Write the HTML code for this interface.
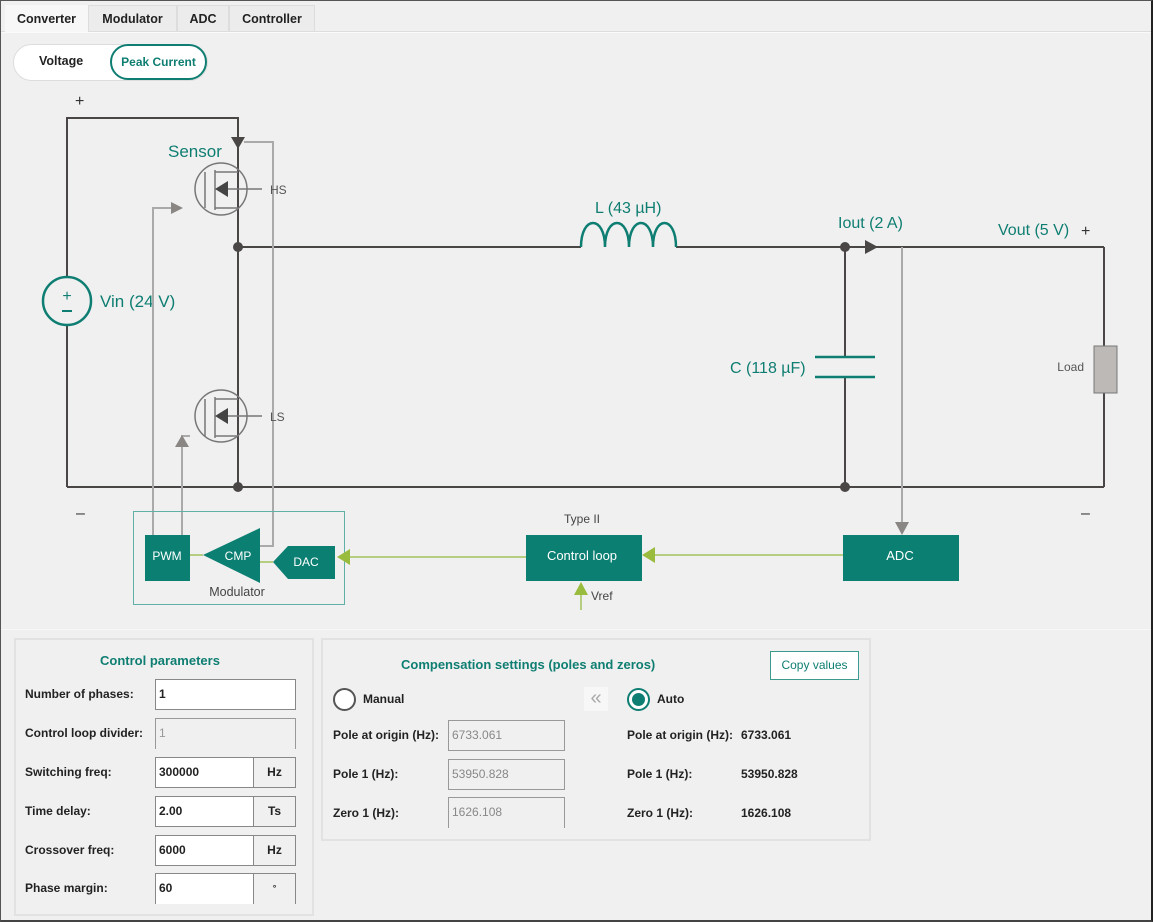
<!DOCTYPE html>
<html><head><meta charset="utf-8">
<style>
*{box-sizing:border-box;margin:0;padding:0}
body{width:1153px;height:922px;background:#f0f0f0;font-family:"Liberation Sans",sans-serif;position:relative;overflow:hidden;color:#222}
.frame{position:absolute;left:0;top:0;width:1153px;height:922px;border:1px solid #555;border-right:2px solid #222;border-bottom:2px solid #444}
.abs{position:absolute}
.tab{position:absolute;top:5px;height:26px;font-size:12.5px;font-weight:bold;line-height:26px;text-align:center;border:1px solid #ddd;border-bottom:none;background:#ececec;color:#222}
.lbl{position:absolute;font-size:12px;font-weight:bold;color:#222;white-space:nowrap}
.inp{position:absolute;background:#fff;border:1px solid #888;font-size:12px;font-weight:bold;padding-left:3px;line-height:28px}
.unit{position:absolute;border:1px solid #888;font-size:12px;font-weight:bold;text-align:center;line-height:28px;background:#f0f0f0}
.dis{position:absolute;border:1px solid #999;font-size:12px;color:#888;padding-left:3px;line-height:28px;background:#f0f0f0}
.panel{position:absolute;border:2px solid #e2e2e2}
</style></head><body>
<div class="abs" style="left:1px;top:31px;width:1150px;height:1px;background:#ddd"></div>
<div class="abs" style="left:1px;top:32px;width:1150px;height:1px;background:#fafafa"></div>
<div class="tab" style="left:5px;width:83px;background:#f7f7f7;border-color:#f7f7f7;height:27px">Converter</div>
<div class="tab" style="left:88px;width:89px">Modulator</div>
<div class="tab" style="left:177px;width:52px">ADC</div>
<div class="tab" style="left:229px;width:86px">Controller</div>

<div class="abs" style="left:13px;top:44px;width:195px;height:37px;border-radius:19px;background:#fff;border:1px solid #ddd"></div>
<div class="lbl" style="left:39px;top:54px;font-size:12.5px">Voltage</div>
<div class="abs" style="left:110px;top:44px;width:97px;height:36px;border-radius:18px;border:2px solid #0f7e72;background:#fff;color:#0f7e72;font-size:12px;font-weight:bold;text-align:center;line-height:32px;white-space:nowrap">Peak Current</div>

<svg class="abs" style="left:0;top:0" width="1153" height="630" font-family="Liberation Sans, sans-serif">
<g stroke="#4a4646" stroke-width="2" fill="none">
<polyline points="67,277 67,118 238,118 238,487"/>
<line x1="67" y1="325" x2="67" y2="487"/>
<line x1="67" y1="487" x2="1104" y2="487"/>
<line x1="238" y1="247" x2="581" y2="247"/>
<line x1="676" y1="247" x2="1104" y2="247"/>
<line x1="1104" y1="247" x2="1104" y2="346"/>
<line x1="1104" y1="393" x2="1104" y2="487"/>
<line x1="845" y1="247" x2="845" y2="357"/>
<line x1="845" y1="377" x2="845" y2="487"/>
</g>
<g fill="#4a4646"><circle cx="238" cy="247" r="5"/><circle cx="238" cy="487" r="5"/><circle cx="845" cy="247" r="5"/><circle cx="845" cy="487" r="5"/>
<polygon points="231,137 245,137 238,149"/><polygon points="865,240 865,254 878,247"/></g>
<circle cx="67" cy="301" r="24" fill="none" stroke="#0f7e72" stroke-width="2.5"/>
<text x="67" y="301" text-anchor="middle" font-size="16" fill="#0f7e72">+</text>
<line x1="62" y1="311" x2="72" y2="311" stroke="#0f7e72" stroke-width="2"/>
<text x="100" y="307" font-size="17" fill="#0f7e72">Vin (24 V)</text>
<text x="75" y="106" font-size="16" fill="#333">+</text>
<text x="76" y="518" font-size="16" fill="#333">–</text>
<text x="1081" y="518" font-size="16" fill="#333">–</text>
<text x="168" y="157" font-size="17" fill="#0f7e72">Sensor</text>
<g stroke="#aaa" stroke-width="2" fill="none">
<polyline points="244,142 273,142 273,546 260,546"/>
<polyline points="175,208 153,208 153,535"/>
<polyline points="190,436 182,436 182,535"/>
<line x1="902" y1="247" x2="902" y2="524"/>
</g>
<g fill="#8a8684"><polygon points="171,202 171,214 183,208"/><polygon points="175,447 189,447 182,435"/><polygon points="895,522 909,522 902,535"/></g>
<g stroke="#777" stroke-width="1.5" fill="none">
<circle cx="221" cy="189" r="26"/><circle cx="221" cy="416" r="26"/>
<line x1="205" y1="172" x2="205" y2="208"/><line x1="205" y1="399" x2="205" y2="436"/>
<polyline points="215,172 238,172"/><polyline points="215,208 238,208"/>
<polyline points="215,399 238,399"/><polyline points="215,436 238,436"/>
<line x1="215" y1="170" x2="215" y2="210"/><line x1="215" y1="397" x2="215" y2="438"/>
<line x1="223" y1="189" x2="262" y2="189"/><line x1="223" y1="416" x2="262" y2="416"/>
</g>
<g fill="#444"><polygon points="215,189 228,181 228,197"/><polygon points="215,416 228,408 228,424"/></g>
<text x="270" y="194" font-size="12" fill="#555">HS</text>
<text x="270" y="421" font-size="12" fill="#555">LS</text>
<path d="M581,247 C581,215 605,215 605,247 C605,215 629,215 629,247 C629,215 653,215 653,247 C653,215 676,215 676,247" fill="none" stroke="#0f7e72" stroke-width="2.5"/>
<text x="595" y="213" font-size="16" fill="#0f7e72">L (43 µH)</text>
<text x="838" y="228" font-size="16" fill="#0f7e72">Iout (2 A)</text>
<text x="998" y="235" font-size="16" fill="#0f7e72">Vout (5 V)</text>
<text x="1081" y="236" font-size="16" fill="#333">+</text>
<g stroke="#0f7e72" stroke-width="2.5"><line x1="815" y1="357" x2="875" y2="357"/><line x1="815" y1="377" x2="875" y2="377"/></g>
<text x="730" y="373" font-size="16" fill="#0f7e72">C (118 µF)</text>
<rect x="1094" y="346" width="23" height="47" fill="#bcb9b7" stroke="#777" stroke-width="1"/>
<text x="1084" y="371" font-size="12" fill="#555" text-anchor="end">Load</text>
<rect x="133.5" y="511.5" width="211" height="93" fill="none" stroke="#5fb0a6" stroke-width="1"/>
<g stroke="#a3c25a" stroke-width="1.5"><line x1="190" y1="555" x2="203" y2="555"/><line x1="260" y1="562" x2="273" y2="562"/>
<line x1="350" y1="557" x2="526" y2="557"/><line x1="655" y1="555" x2="843" y2="555"/><line x1="581" y1="610" x2="581" y2="594"/></g>
<g fill="#99bb3e"><polygon points="337,557 350,549 350,565"/><polygon points="642,555 655,547 655,563"/><polygon points="581,582 574,595 588,595"/></g>
<rect x="145" y="535" width="45" height="46" fill="#0b7f72"/>
<text x="167" y="560" font-size="12" fill="#fff" text-anchor="middle">PWM</text>
<polygon points="203,555 260,528 260,583" fill="#0b7f72"/>
<text x="238" y="560" font-size="12" fill="#fff" text-anchor="middle">CMP</text>
<polygon points="273,562 288,546 335,546 335,579 288,579" fill="#0b7f72"/>
<text x="306" y="566" font-size="12" fill="#fff" text-anchor="middle">DAC</text>
<text x="237" y="596" font-size="12.5" fill="#444" text-anchor="middle">Modulator</text>
<rect x="526" y="535" width="116" height="46" fill="#0b7f72"/>
<text x="582" y="560" font-size="13" fill="#fff" text-anchor="middle">Control loop</text>
<rect x="843" y="535" width="116" height="46" fill="#0b7f72"/>
<text x="900" y="560" font-size="13" fill="#fff" text-anchor="middle">ADC</text>
<text x="582" y="523" font-size="12" fill="#444" text-anchor="middle">Type II</text>
<text x="591" y="600" font-size="12" fill="#444">Vref</text>
</svg>
<div class="abs" style="left:1px;top:629px;width:1150px;height:1px;background:#f7f7f7"></div>

<div class="panel" style="left:14px;top:638px;width:300px;height:278px"></div>
<div class="lbl" style="left:100px;top:653px;color:#0f7e72;font-size:13px">Control parameters</div>
<div class="lbl" style="left:25px;top:687px">Number of phases:</div>
<div class="inp" style="left:155px;top:679px;width:141px;height:31px">1</div>
<div class="lbl" style="left:25px;top:726px">Control loop divider:</div>
<div class="dis" style="left:155px;top:718px;width:141px;height:31px;border-bottom:none;color:#999;font-weight:normal">1</div>
<div class="lbl" style="left:25px;top:765px">Switching freq:</div>
<div class="inp" style="left:155px;top:757px;width:99px;height:31px">300000</div><div class="unit" style="left:253px;top:757px;width:43px;height:31px">Hz</div>
<div class="lbl" style="left:25px;top:804px">Time delay:</div>
<div class="inp" style="left:155px;top:796px;width:99px;height:31px">2.00</div><div class="unit" style="left:253px;top:796px;width:43px;height:31px">Ts</div>
<div class="lbl" style="left:25px;top:843px">Crossover freq:</div>
<div class="inp" style="left:155px;top:835px;width:99px;height:31px">6000</div><div class="unit" style="left:253px;top:835px;width:43px;height:31px">Hz</div>
<div class="lbl" style="left:25px;top:881px">Phase margin:</div>
<div class="inp" style="left:155px;top:873px;width:99px;height:31px;border-bottom:none">60</div><div class="unit" style="left:253px;top:873px;width:43px;height:31px;border-bottom:none;font-size:9px">°</div>

<div class="panel" style="left:321px;top:638px;width:550px;height:203px"></div>
<div class="lbl" style="left:401px;top:657px;color:#0f7e72;font-size:13px">Compensation settings (poles and zeros)</div>
<div class="abs" style="left:770px;top:651px;width:89px;height:29px;border:1px solid #3a9a8e;background:#fff;color:#0f7e72;font-size:12px;text-align:center;line-height:27px">Copy values</div>
<div class="abs" style="left:333px;top:688px;width:23px;height:23px;border-radius:50%;border:2px solid #555;background:#fff"></div>
<div class="lbl" style="left:363px;top:692px">Manual</div>
<div class="abs" style="left:584px;top:687px;width:24px;height:24px;background:#f7f7f7;color:#aaa;font-size:20px;text-align:center;line-height:22px">«</div>
<div class="abs" style="left:627px;top:688px;width:23px;height:23px;border-radius:50%;border:2px solid #0f7e72;background:#fff"></div>
<div class="abs" style="left:632px;top:693px;width:13px;height:13px;border-radius:50%;background:#0f7e72"></div>
<div class="lbl" style="left:657px;top:692px">Auto</div>
<div class="lbl" style="left:333px;top:728px">Pole at origin (Hz):</div>
<div class="dis" style="left:448px;top:720px;width:117px;height:31px">6733.061</div>
<div class="lbl" style="left:333px;top:767px">Pole 1 (Hz):</div>
<div class="dis" style="left:448px;top:759px;width:117px;height:31px">53950.828</div>
<div class="lbl" style="left:333px;top:806px">Zero 1 (Hz):</div>
<div class="dis" style="left:448px;top:797px;width:117px;height:31px;border-bottom:none">1626.108</div>
<div class="lbl" style="left:627px;top:728px">Pole at origin (Hz):</div><div class="lbl" style="left:741px;top:728px">6733.061</div>
<div class="lbl" style="left:627px;top:767px">Pole 1 (Hz):</div><div class="lbl" style="left:741px;top:767px">53950.828</div>
<div class="lbl" style="left:627px;top:806px">Zero 1 (Hz):</div><div class="lbl" style="left:741px;top:806px">1626.108</div>
<div class="frame"></div>
</body></html>
